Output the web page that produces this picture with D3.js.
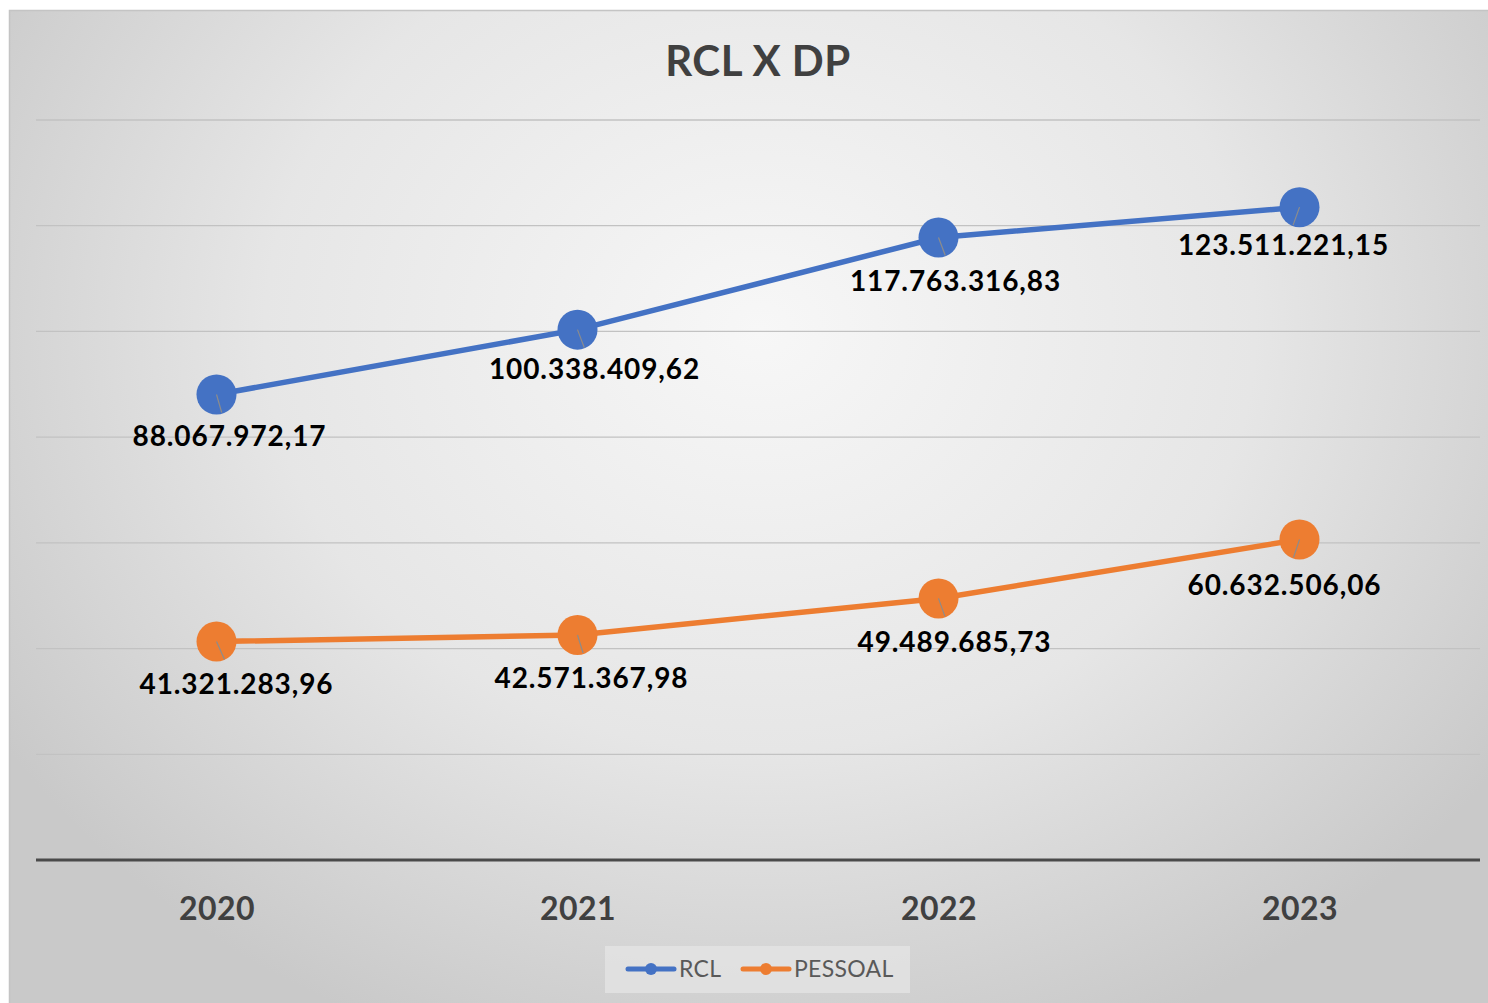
<!DOCTYPE html>
<html>
<head>
<meta charset="utf-8">
<script src="https://cdn.jsdelivr.net/npm/d3@7"></script>
<style>
  body { margin: 0; background: #fff; }
  text { font-family: Lato, "Open Sans", sans-serif; }
</style>
</head>
<body>
<div id="chart"></div>
<script>
// data
const years = ["2020", "2021", "2022", "2023"];
const rcl = [88067972.17, 100338409.62, 117763316.83, 123511221.15];
const pessoal = [41321283.96, 42571367.98, 49489685.73, 60632506.06];
const seriesNames = ["RCL", "PESSOAL"];
const gridTicks = [0, 20e6, 40e6, 60e6, 80e6, 100e6, 120e6, 140e6];

// label placement relative to each point (layout only)
const rclLabelOffset = [[13, 52], [17, 49], [17, 53], [-16, 48]];
const pesLabelOffset = [[20, 52], [14, 53], [16, 54], [-15, 55]];

const W = 1488, H = 1003;
const margin = {top: 120, right: 8, bottom: 143, left: 36};

const svg = d3.select("#chart").append("svg")
    .attr("width", W)
    .attr("height", H);

const defs = svg.append("defs");
const grad = defs.append("radialGradient")
    .attr("id", "bg")
    .attr("gradientUnits", "userSpaceOnUse")
    .attr("cx", 760).attr("cy", 330).attr("r", 900)
    .attr("gradientTransform", "translate(760,330) scale(1,0.85) translate(-760,-330)");
grad.append("stop").attr("offset", "0%").attr("stop-color", "#f7f7f7");
grad.append("stop").attr("offset", "55%").attr("stop-color", "#e6e6e6");
grad.append("stop").attr("offset", "100%").attr("stop-color", "#c9c9c9");

// chart area background + border
svg.append("rect")
    .attr("x", 9.5).attr("y", 10.5)
    .attr("width", W).attr("height", H)
    .attr("fill", "url(#bg)")
    .attr("stroke", "#c4c4c4")
    .attr("stroke-width", 1.5);

const x = d3.scalePoint()
    .domain(years)
    .range([margin.left, W - margin.right])
    .padding(0.5);

const y = d3.scaleLinear()
    .domain([0, 140e6])
    .range([H - margin.bottom, margin.top]);

// title
svg.append("text")
    .attr("x", 758).attr("y", 76)
    .attr("text-anchor", "middle")
    .attr("font-size", 42)
    .attr("font-weight", "bold")
    .attr("letter-spacing", 0.5)
    .attr("fill", "#404040")
    .text("RCL X DP");

// gridlines
svg.append("g")
    .selectAll("line")
    .data(gridTicks.slice(1))
    .join("line")
    .attr("x1", margin.left).attr("x2", W - margin.right)
    .attr("y1", d => y(d)).attr("y2", d => y(d))
    .attr("stroke", "#c2c2c2")
    .attr("stroke-width", 1.3);

// x axis
const xAxis = svg.append("g")
    .attr("transform", "translate(0," + y(0) + ")")
    .call(d3.axisBottom(x).tickSize(0).tickPadding(37));
xAxis.select(".domain")
    .attr("d", "M" + margin.left + ",0H" + (W - margin.right))
    .attr("stroke", "#4a4a4a")
    .attr("stroke-width", 3);
xAxis.selectAll("text")
    .attr("font-family", "Lato, 'Open Sans', sans-serif")
    .attr("font-size", 32)
    .attr("font-weight", "bold")
    .attr("letter-spacing", 0.5)
    .attr("fill", "#404040");

const fmt = d3.formatLocale({decimal: ",", thousands: ".", grouping: [3], currency: ["", ""]}).format(",.2f");

const line = d3.line()
    .x((d, i) => x(years[i]))
    .y(d => y(d));

const series = [
    {name: seriesNames[0], values: rcl, color: "#4472c4", offs: rclLabelOffset},
    {name: seriesNames[1], values: pessoal, color: "#ed7d31", offs: pesLabelOffset}
];

series.forEach(function(s) {
    let g = svg.append("g");
    g.append("path")
        .datum(s.values)
        .attr("d", line)
        .attr("fill", "none")
        .attr("stroke", s.color)
        .attr("stroke-width", 5.5);

    g.selectAll("circle")
        .data(s.values)
        .join("circle")
        .attr("cx", (d, i) => x(years[i]))
        .attr("cy", d => y(d))
        .attr("r", 20)
        .attr("fill", s.color);

    // leader lines
    g.selectAll(".leader")
        .data(s.values)
        .join("line")
        .attr("class", "leader")
        .attr("x1", (d, i) => x(years[i]))
        .attr("y1", d => y(d))
        .attr("x2", (d, i) => x(years[i]) + s.offs[i][0] * 0.4)
        .attr("y2", d => y(d) + 18)
        .attr("stroke", "#8c8c8c")
        .attr("stroke-width", 1.2);

    g.selectAll(".lbl")
        .data(s.values)
        .join("text")
        .attr("class", "lbl")
        .attr("x", (d, i) => x(years[i]) + s.offs[i][0])
        .attr("y", (d, i) => y(d) + s.offs[i][1])
        .attr("text-anchor", "middle")
        .attr("font-size", 28)
        .attr("font-weight", "bold")
        .attr("letter-spacing", 0.9)
        .attr("fill", "#000")
        .text(d => fmt(d));
});

// legend
const leg = svg.append("g");
leg.append("rect")
    .attr("x", 605).attr("y", 946)
    .attr("width", 305).attr("height", 47)
    .attr("fill", "#e4e4e4")
    .attr("opacity", 0.8);

const legItems = [
    {name: seriesNames[0], color: "#4472c4", x0: 628},
    {name: seriesNames[1], color: "#ed7d31", x0: 743}
];
legItems.forEach(function(d) {
    leg.append("line")
        .attr("x1", d.x0).attr("x2", d.x0 + 46)
        .attr("y1", 969).attr("y2", 969)
        .attr("stroke", d.color).attr("stroke-width", 5)
        .attr("stroke-linecap", "round");
    leg.append("circle")
        .attr("cx", d.x0 + 23).attr("cy", 969).attr("r", 6)
        .attr("fill", d.color);
    leg.append("text")
        .attr("x", d.x0 + 51).attr("y", 977)
        .attr("font-size", 23)
        .attr("letter-spacing", 0.3)
        .attr("fill", "#595959")
        .text(d.name);
});
</script>
</body>
</html>
